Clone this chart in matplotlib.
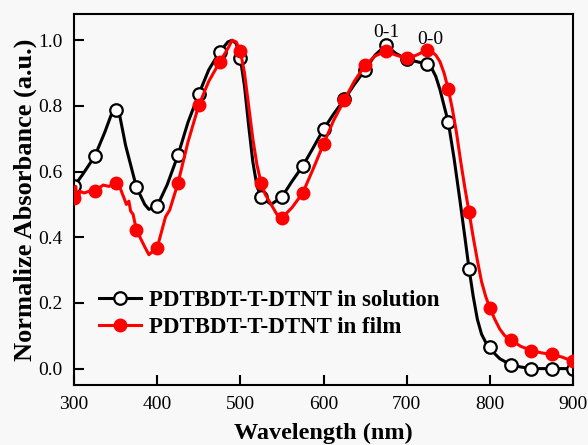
import matplotlib
matplotlib.use("Agg")
import matplotlib.pyplot as plt

# ---- data ----
wl_sol = [300, 310, 325, 337, 345, 350, 355, 362, 375, 385, 390, 400, 412, 425, 437,
          450, 462, 475, 485, 490, 495, 500, 505, 510, 515, 520, 525, 537, 550, 562, 575,
          587, 600, 612, 625, 637, 650, 662, 675, 687, 700, 712, 725, 730, 735, 740, 745, 750,
          757, 764, 770, 775, 780, 785, 790, 795, 800, 806, 812, 825, 837, 850, 875, 900]
abs_sol = [0.555, 0.59, 0.647, 0.72, 0.775, 0.787, 0.77, 0.68, 0.553, 0.50, 0.485, 0.495, 0.56, 0.650, 0.75,
           0.836, 0.91, 0.964, 0.995, 1.0, 0.99, 0.945, 0.86, 0.74, 0.63, 0.555, 0.523, 0.50, 0.523, 0.57, 0.617,
           0.67, 0.729, 0.775, 0.82, 0.865, 0.91, 0.955, 0.985, 0.96, 0.942, 0.935, 0.927, 0.915, 0.89, 0.85, 0.80, 0.751,
           0.64, 0.513, 0.40, 0.304, 0.22, 0.15, 0.105, 0.08, 0.067, 0.045, 0.03, 0.012, 0.005, 0.0, 0.0, 0.0]

wl_film = [300, 302, 304, 307, 312, 318, 325, 335, 342, 350, 355, 360, 363, 366, 368, 371,
           375, 385, 390, 400, 410, 415, 425, 437, 450, 462, 475, 485, 490, 495, 500,
           505, 510, 515, 520, 525, 530, 537, 545, 550, 562, 575, 587, 600, 612, 625, 637, 650, 662,
           675, 687, 700, 712, 720, 725, 730, 735, 740, 745, 750, 755, 760, 765, 770, 775, 780, 785,
           790, 795, 800, 806, 812, 818, 825, 837, 850, 862, 875, 887, 900]
abs_film = [0.52, 0.555, 0.505, 0.54, 0.535, 0.54, 0.541, 0.559, 0.555, 0.565, 0.553, 0.52, 0.50, 0.51, 0.48, 0.47,
            0.422, 0.371, 0.347, 0.368, 0.462, 0.483, 0.565, 0.69, 0.802, 0.875, 0.933, 0.975, 1.0, 0.995, 0.967,
            0.90, 0.80, 0.70, 0.62, 0.565, 0.53, 0.50, 0.465, 0.459, 0.49, 0.535, 0.605, 0.684, 0.755, 0.818, 0.875, 0.924, 0.952,
            0.967, 0.955, 0.945, 0.955, 0.965, 0.970, 0.965, 0.955, 0.935, 0.90, 0.851, 0.79, 0.717, 0.63, 0.55, 0.477, 0.40, 0.33,
            0.265, 0.22, 0.185, 0.15, 0.12, 0.10, 0.088, 0.068, 0.055, 0.048, 0.043, 0.035, 0.022]

marker_step = 25
label_sol = "PDTBDT-T-DTNT in solution"
label_film = "PDTBDT-T-DTNT in film"
peak_labels = ["0-1", "0-0"]
peak_pos = [(675, 0.997), (728, 0.975)]

bg = "#f8f8f8"
plt.rcParams["font.family"] = ["Liberation Serif", "DejaVu Serif"]

fig = plt.figure(figsize=(5.88, 4.45), dpi=100, facecolor=bg)
ax = fig.add_axes([0.1259, 0.1348, 0.8486, 0.8337])
ax.set_facecolor(bg)

def mk(w):
    return [i for i, v in enumerate(w) if v % marker_step == 0]

ax.plot(wl_sol, abs_sol, color="black", lw=2.2, marker="o", markevery=mk(wl_sol),
        ms=9, mfc="white", mec="black", mew=1.6, label=label_sol, zorder=2)
ax.plot(wl_film, abs_film, color="#ff0000", lw=2.2, marker="o", markevery=mk(wl_film),
        ms=9, mfc="#ff0000", mec="#ff0000", label=label_film, zorder=3)

for t, (x, y) in zip(peak_labels, peak_pos):
    ax.text(x, y, t, ha="center", va="bottom", fontsize=14)

ax.set_xlim(300, 900)
ax.set_ylim(-0.05, 1.08)
ax.set_xticks([300, 400, 500, 600, 700, 800, 900])
ax.set_yticks([0.0, 0.2, 0.4, 0.6, 0.8, 1.0])
ax.set_yticklabels(["0.0", "0.2", "0.4", "0.6", "0.8", "1.0"])
ax.tick_params(direction="in", length=7, width=1.5, labelsize=14, pad=8)
for s in ax.spines.values():
    s.set_linewidth(1.5)

ax.set_xlabel("Wavelength (nm)", fontsize=17.5, fontweight="bold", labelpad=7)
ax.set_ylabel("Normalize Absorbance (a.u.)", fontsize=19, fontweight="bold", labelpad=1)

leg = ax.legend(loc="lower left", bbox_to_anchor=(0.008, 0.072), frameon=False,
                prop={"weight": "bold", "size": 16.5}, handlelength=1.85, handletextpad=0.35,
                labelspacing=0.25)

fig.savefig("out.png", dpi=100, facecolor=bg)
